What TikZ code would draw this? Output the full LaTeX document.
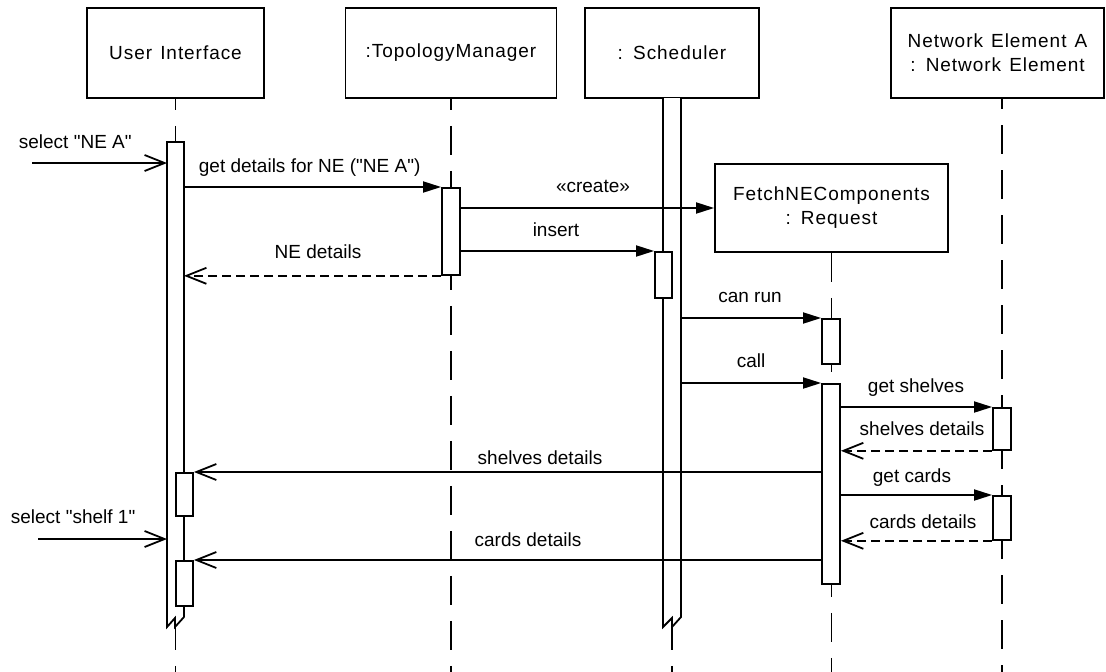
\documentclass[tikz,border=0pt]{standalone}
\usepackage{fontspec}
\setmainfont{Liberation Sans}[WordSpace=1.8,Ligatures=TeXOff]
\newfontfamily\headfont{Liberation Sans}[WordSpace=1.3,LetterSpace=5,Ligatures=TeXOff]
\newfontfamily\tightfont{Liberation Sans}[Ligatures=TeXOff]
\usetikzlibrary{arrows.meta}

\begin{document}
\begin{tikzpicture}[x=1pt,y=-1pt,line width=1.8pt,
  every node/.style={font=\fontsize{19}{24}\selectfont,inner sep=0pt},
  headbox/.style={draw,fill=white,minimum height=90pt,align=center,
    font=\headfont\fontsize{19}{24}\selectfont},
  actbox/.style={draw,fill=white,minimum width=18pt,anchor=north},
  lifeline/.style={dash pattern=on 29pt off 16pt,dash phase=18pt},
  sync/.style={-{Triangle[length=18pt,width=11pt]}},
  async/.style={-{Straight Barb[length=20pt,width=16pt]}},
  reply/.style={async,dash pattern=on 9pt off 5pt},
  lbl/.style={anchor=base}]

\fill[white] (0,0) rectangle (1106,672);
\useasboundingbox (0,0) rectangle (1106,672);

% lifeline heads
\node[headbox,minimum width=177pt] (ui) at (175.5,53) {User Interface};
\node[headbox,minimum width=211pt] (tm) at (451,53) {:TopologyManager};
\node[headbox,minimum width=174pt] (sc) at (672,53) {: Scheduler};
\node[headbox,minimum width=213pt] (ne) at (997.5,53) {Network Element A\\: Network Element};
\node[headbox,minimum width=233pt,minimum height=88pt] (fetch) at (831.5,208) {FetchNEComponents\\: Request};

% reference points
\coordinate (uiNW) at (167,142);
\coordinate (uiNE) at (184,142);
\coordinate (scL) at (663,98);
\coordinate (scR) at (681,98);
\coordinate (neL) at (1002,98);
\coordinate (src1) at (32,163);
\coordinate (src2) at (38,539);
\coordinate (bottom) at (0,672);

% dashed lifelines
\begin{scope}[lifeline]
  \draw (ui.south) -- (ui.south |- bottom);
  \draw (tm.south) -- (tm.south |- bottom);
  \draw (sc.south) -- (sc.south |- bottom);
  \draw[dash phase=0pt] (fetch.south) -- (fetch.south |- bottom);
  \draw (neL) -- (neL |- bottom);
\end{scope}

% long activation of the user interface, broken at the bottom
\fill[white] (uiNW) -- (uiNE) -- (184,617) -- (175,627) -- (175,618) -- (167,627) -- cycle;
\draw (184,617) -- (uiNE) -- (uiNW) -- (167,627) -- (175,618) -- (175,627) -- (184,617);

% active scheduler: double line, broken at the bottom
\fill[white] (scL) -- (scR) -- (681,617) -- (672,627) -- (672,618) -- (663,627) -- cycle;
\draw (scR) -- (681,617) -- (672,627) -- (672,618) -- (663,627) -- (scL);

% activation boxes
\node[actbox,minimum height=87pt] (tm1) at (451,187) {};
\node[actbox,minimum width=17pt,minimum height=46pt] (sc1) at (663.5,251) {};
\node[actbox,minimum height=45pt] (rq1) at (831,318) {};
\node[actbox,minimum height=200pt] (rq2) at (831,383) {};
\node[actbox,minimum height=42pt] (ne1) at (1002,407) {};
\node[actbox,minimum height=44pt] (ne2) at (1002,495) {};
\node[actbox,minimum width=17pt,minimum height=43pt] (ui1) at (184.5,472) {};
\node[actbox,minimum width=17pt,minimum height=45pt] (ui2) at (184.5,560) {};

% messages
\draw[async] (src1) -- (src1 -| uiNW);
\draw[sync] (uiNE |- tm1.north) -- (tm1.north west);
\draw[sync] (tm1.east |- fetch.west) -- (fetch.west);
\draw[sync] (tm1.east |- sc1.north) -- (sc1.north west);
\draw[reply] (tm1.south west) -- (tm1.south west -| uiNE);
\draw[sync] (scR |- rq1.north) -- (rq1.north west);
\draw[sync] (scR |- rq2.north) -- (rq2.north west);
\draw[sync] (rq2.east |- ne1.north) -- (ne1.north west);
\draw[reply] (ne1.south west) -- (ne1.south west -| rq2.east);
\draw[async] (rq2.west |- ui1.north) -- (ui1.north east);
\draw[sync] (rq2.east |- ne2.north) -- (ne2.north west);
\draw[async] (src2) -- (src2 -| uiNW);
\draw[reply] (ne2.south west) -- (ne2.south west -| rq2.east);
\draw[async] (rq2.west |- ui2.north) -- (ui2.north east);

% message labels
\node[anchor=base west,font=\tightfont\fontsize{19}{24}\selectfont] (lsel1) at (18,148) {select "NE A"};
\node[anchor=base west,font=\tightfont\fontsize{19}{24}\selectfont] (lget) at (198,172) {get details for NE ("NE A")};
\node[lbl] (lcreate) at (593,192) {«create»};
\node[lbl] (linsert) at (556,236) {insert};
\node[lbl] (lnedet) at (318,258) {NE details};
\node[lbl] (lcanrun) at (750,302) {can run};
\node[lbl] (lcall) at (751,367) {call};
\node[lbl] (lgetsh) at (916,392) {get shelves};
\node[lbl] (lshret) at (922,435) {shelves details};
\node[lbl] (lshui) at (540,464) {shelves details};
\node[lbl] (lgetcd) at (912,482) {get cards};
\node[anchor=base west] (lsel2) at (10,523) {select "shelf 1"};
\node[lbl] (lcdret) at (923,528) {cards details};
\node[lbl] (lcdui) at (528,546) {cards details};

\end{tikzpicture}
\end{document}
